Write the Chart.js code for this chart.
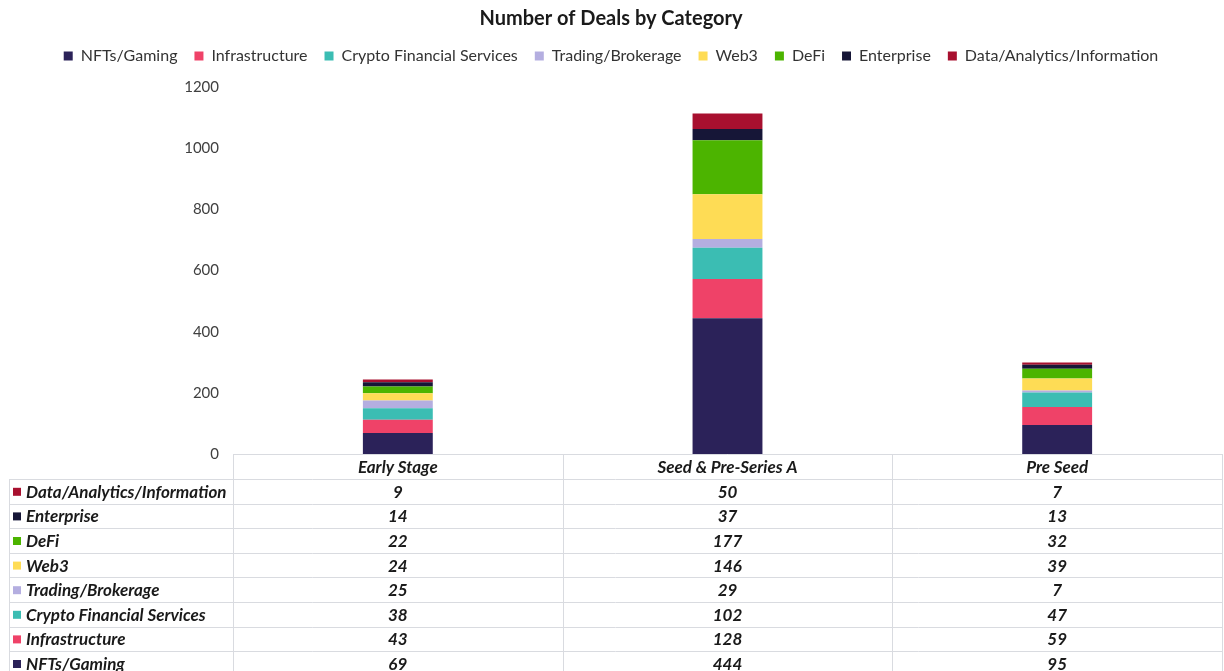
<!DOCTYPE html>
<html><head><meta charset="utf-8">
<script src="https://cdn.jsdelivr.net/npm/chart.js@4"></script>
<style>html,body{margin:0;padding:0;background:#fff}#wrap{width:1224px;height:671px;position:relative}</style>
</head><body><div id="wrap"><canvas id="c" width="1224" height="671"></canvas></div>
<script>
const categories = ['Early Stage', 'Seed & Pre-Series A', 'Pre Seed'];
const seriesNames = ['NFTs/Gaming', 'Infrastructure', 'Crypto Financial Services', 'Trading/Brokerage', 'Web3', 'DeFi', 'Enterprise', 'Data/Analytics/Information'];
const nftsGaming = [69, 444, 95];
const infrastructure = [43, 128, 59];
const cryptoFinancialServices = [38, 102, 47];
const tradingBrokerage = [25, 29, 7];
const web3 = [24, 146, 39];
const defi = [22, 177, 32];
const enterprise = [14, 37, 13];
const dataAnalytics = [9, 50, 7];
const yTicks = [0, 200, 400, 600, 800, 1000, 1200];

const seriesValues = [nftsGaming, infrastructure, cryptoFinancialServices, tradingBrokerage, web3, defi, enterprise, dataAnalytics];
const seriesColors = ['#2b2259', '#ef4268', '#3bbdb3', '#b4aee0', '#fedc55', '#4cb400', '#161637', '#a8102f'];

const FONT = 'Lato, "Open Sans", sans-serif';

const legendSpacer = {
  id: 'legendSpacer',
  beforeInit(chart) {
    const lg = chart.legend;
    if (!lg) return;
    const origFit = lg.fit;
    lg.fit = function () { origFit.call(this); this.height += 13; };
  }
};

const tablePlugin = {
  id: 'dataTable',
  afterDraw(chart) {
    const ctx = chart.ctx, ca = chart.chartArea, xs = chart.scales.x;
    const ds = chart.data.datasets;
    const n = ds.length;
    const headerTop = ca.bottom, headerH = 25, rowH = 24.6;
    const left = 9, right = ca.right;
    const centers = categories.map((c, i) => xs.getPixelForValue(i));
    const edges = [ca.left];
    for (let i = 1; i < centers.length; i++) edges.push((centers[i - 1] + centers[i]) / 2);
    edges.push(ca.right);
    const bottom = headerTop + headerH + n * rowH;
    ctx.save();
    ctx.strokeStyle = '#d9dbe0';
    ctx.lineWidth = 1;
    ctx.beginPath();
    ctx.moveTo(ca.left, headerTop + 0.5); ctx.lineTo(right, headerTop + 0.5);
    for (let k = 0; k <= n; k++) {
      const y = Math.round(headerTop + headerH + k * rowH) + 0.5;
      ctx.moveTo(left, y); ctx.lineTo(right, y);
    }
    edges.forEach(x => { const xx = Math.round(x) + 0.5; ctx.moveTo(xx, headerTop); ctx.lineTo(xx, bottom); });
    ctx.moveTo(left + 0.5, headerTop + headerH); ctx.lineTo(left + 0.5, bottom);
    ctx.stroke();

    ctx.fillStyle = '#1a1a1a';
    ctx.font = 'italic bold 17px ' + FONT;
    ctx.textBaseline = 'middle';
    ctx.textAlign = 'center';
    categories.forEach((c, i) => ctx.fillText(c, centers[i], headerTop + headerH / 2 + 1));
    for (let r = 0; r < n; r++) {
      const d = ds[n - 1 - r];
      const yc = headerTop + headerH + r * rowH + rowH / 2 + 1;
      ctx.fillStyle = d.backgroundColor;
      ctx.fillRect(left + 4, yc - 4.5, 8, 8);
      ctx.fillStyle = '#1a1a1a';
      ctx.textAlign = 'left';
      ctx.fillText(d.label, left + 17, yc);
      ctx.textAlign = 'center';
      d.data.forEach((v, i) => ctx.fillText(String(v), centers[i], yc));
    }
    ctx.restore();
  }
};

new Chart(document.getElementById('c'), {
  type: 'bar',
  data: {
    labels: categories,
    datasets: seriesNames.map((name, i) => ({
      label: name,
      data: seriesValues[i],
      backgroundColor: seriesColors[i],
      borderWidth: 0,
      categoryPercentage: 1,
      barPercentage: 0.212
    }))
  },
  options: {
    responsive: false,
    animation: false,
    devicePixelRatio: 1,
    layout: { padding: { left: 0, right: 2, top: 4, bottom: 217 } },
    plugins: {
      title: {
        display: true,
        text: 'Number of Deals by Category',
        color: '#1a1a1a',
        font: { family: FONT, size: 20, weight: 'bold' },
        padding: { top: 3, bottom: 0 }
      },
      legend: {
        position: 'top',
        labels: {
          color: '#333333',
          font: { family: FONT, size: 16 },
          boxWidth: 9, boxHeight: 9,
          padding: 17
        }
      },
      tooltip: { enabled: false }
    },
    scales: {
      x: { display: false, stacked: true },
      y: {
        stacked: true,
        min: 0, max: 1200,
        afterBuildTicks: s => { s.ticks = yTicks.map(v => ({ value: v })); },
        afterFit: s => { s.width = 233; },
        grid: { display: false, drawTicks: false },
        border: { display: false },
        ticks: { color: '#404040', font: { family: FONT, size: 15 }, padding: 14, callback: v => String(v) }
      }
    }
  },
  plugins: [legendSpacer, tablePlugin]
});
</script></body></html>
